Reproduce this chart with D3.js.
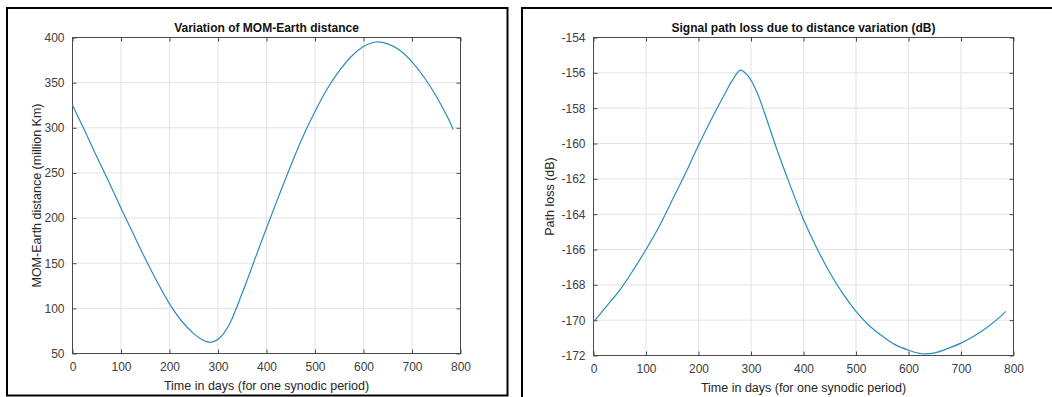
<!DOCTYPE html>
<html>
<head>
<meta charset="utf-8">
<script src="https://cdn.jsdelivr.net/npm/d3@7"></script>
<style>
  html, body { margin: 0; padding: 0; background: #fff; }
  svg { display: block; font-family: "Liberation Sans", Arial, Helvetica, sans-serif; }
</style>
</head>
<body>
<svg id="chart" width="1052" height="397"></svg>
<script>
// days sampled along the synodic period
const days = [0, 25, 50, 75, 100, 125, 150, 175, 200, 225, 250, 265, 280, 295, 310, 325,
  350, 375, 400, 425, 450, 475, 500, 525, 550, 575, 600, 625, 650, 675, 700, 725, 750, 775, 785]

// MOM-Earth distance (million Km)
const distance = [325, 297, 268, 240, 211, 183, 155, 129, 105, 86, 72, 66, 62.5, 64, 71, 84,
  117, 153, 189, 224, 258, 290, 318, 343, 363, 379, 390, 395, 393, 386, 373, 356, 335, 310, 298]

// path loss (dB)
const pathLoss = [-170.1, -169.2, -168.3, -167.2, -166.0, -164.7, -163.2, -161.7, -160.1, -158.6,
  -157.2, -156.4, -155.85, -156.2, -157.0, -158.2, -160.4, -162.4, -164.3, -165.9, -167.3, -168.5,
  -169.5, -170.3, -170.9, -171.4, -171.7, -171.9, -171.85, -171.6, -171.3, -170.9, -170.4, -169.8, -169.5]

const xTicks = [0, 100, 200, 300, 400, 500, 600, 700, 800]
const distTicks = [50, 100, 150, 200, 250, 300, 350, 400]
const lossTicks = [-172, -170, -168, -166, -164, -162, -160, -158, -156, -154]

const lineColor = '#2b8cbf'
const svg = d3.select('#chart')

function drawPanel({ frame, box, yDomain, yTicks, values, title, yLabel }) {
  // outer figure frame
  svg.append('rect')
    .attr('x', frame.x).attr('y', frame.y)
    .attr('width', frame.w).attr('height', frame.h)
    .attr('fill', '#fff').attr('stroke', '#000').attr('stroke-width', 2)

  const x = d3.scaleLinear().domain([0, 800]).range([box.left, box.right])
  const y = d3.scaleLinear().domain(yDomain).range([box.bottom, box.top])
  const g = svg.append('g')

  // grid
  g.append('g').selectAll('line').data(xTicks.slice(1, -1)).join('line')
    .attr('x1', d => x(d)).attr('x2', d => x(d))
    .attr('y1', box.top).attr('y2', box.bottom)
    .attr('stroke', '#e3e3e3').attr('stroke-width', 1)
  g.append('g').selectAll('line').data(yTicks.slice(1, -1)).join('line')
    .attr('x1', box.left).attr('x2', box.right)
    .attr('y1', d => y(d)).attr('y2', d => y(d))
    .attr('stroke', '#e3e3e3').attr('stroke-width', 1)

  // axes (ticks inward, box on)
  const tl = 4
  const fmt = d => d3.format('d')(d).replace('−', '-')
  const ax = g.append('g').attr('transform', `translate(0,${box.bottom})`)
    .call(d3.axisBottom(x).tickValues(xTicks).tickSize(-tl).tickPadding(9).tickFormat(fmt))
  const axTop = g.append('g').attr('transform', `translate(0,${box.top})`)
    .call(d3.axisTop(x).tickValues(xTicks).tickSize(-tl).tickFormat(''))
  const ay = g.append('g').attr('transform', `translate(${box.left},0)`)
    .call(d3.axisLeft(y).tickValues(yTicks).tickSize(-tl).tickPadding(8).tickFormat(fmt))
  const ayR = g.append('g').attr('transform', `translate(${box.right},0)`)
    .call(d3.axisRight(y).tickValues(yTicks).tickSize(-tl).tickFormat(''))
  ;[ax, axTop, ay, ayR].forEach(a => {
    a.select('.domain').remove()
    a.selectAll('line').attr('stroke', '#4a4a4a')
    a.selectAll('text').attr('fill', '#404040').style('font-size', '12px')
  })

  g.append('rect')
    .attr('x', box.left).attr('y', box.top)
    .attr('width', box.right - box.left).attr('height', box.bottom - box.top)
    .attr('fill', 'none').attr('stroke', '#4a4a4a').attr('stroke-width', 1)

  // the curve
  const line = d3.line()
    .x((d, i) => x(days[i]))
    .y(d => y(d))
    .curve(d3.curveCatmullRom.alpha(0.5))
  g.append('path').datum(values)
    .attr('d', line)
    .attr('fill', 'none').attr('stroke', lineColor).attr('stroke-width', 1.2)

  // texts
  g.append('text')
    .attr('x', (box.left + box.right) / 2).attr('y', box.top - 6)
    .attr('text-anchor', 'middle')
    .style('font-size', '12px').style('font-weight', 'bold').attr('fill', '#111')
    .text(title)
  g.append('text')
    .attr('x', (box.left + box.right) / 2).attr('y', box.bottom + 36)
    .attr('text-anchor', 'middle')
    .style('font-size', '12.5px').attr('fill', '#262626')
    .text('Time in days (for one synodic period)')
  g.append('text')
    .attr('transform', `translate(${yLabel.x},${(box.top + box.bottom) / 2}) rotate(-90)`)
    .attr('text-anchor', 'middle')
    .style('font-size', '12.5px').attr('fill', '#262626')
    .text(yLabel.text)
}

drawPanel({
  frame: { x: 7, y: 8, w: 500.5, h: 387.5 },
  box: { left: 72.5, right: 460.5, top: 37.5, bottom: 353.5 },
  yDomain: [50, 400],
  yTicks: distTicks,
  values: distance,
  title: 'Variation of MOM-Earth distance',
  yLabel: { x: 41, text: 'MOM-Earth distance (million Km)' },
})

drawPanel({
  frame: { x: 522, y: 8, w: 540, h: 400 },
  box: { left: 593.5, right: 1013.5, top: 37.5, bottom: 355.5 },
  yDomain: [-172, -154],
  yTicks: lossTicks,
  values: pathLoss,
  title: 'Signal path loss due to distance variation (dB)',
  yLabel: { x: 554, text: 'Path loss (dB)' },
})
</script>
</body>
</html>
